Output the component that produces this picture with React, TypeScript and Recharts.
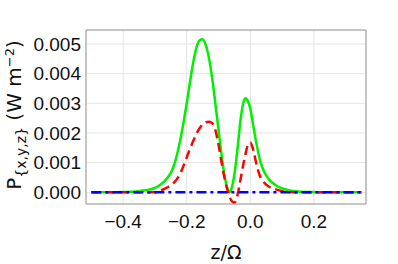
import React from "react";
import { LineChart, Line, XAxis, YAxis, CartesianGrid } from "recharts";

const zValues = [-0.5, -0.45, -0.4, -0.36, -0.33, -0.3, -0.28, -0.26, -0.25, -0.24, -0.23, -0.22, -0.21, -0.2, -0.19, -0.18, -0.17, -0.16, -0.15, -0.14, -0.13, -0.12, -0.11, -0.1, -0.09, -0.08, -0.07, -0.065, -0.06, -0.05, -0.04, -0.03, -0.02, -0.015, -0.01, 0.0, 0.01, 0.02, 0.03, 0.04, 0.05, 0.06, 0.08, 0.1, 0.12, 0.15, 0.2, 0.25, 0.3, 0.35];

const greenValues = [0, 0, 0.00001, 0.00003, 0.00007, 0.00015, 0.00028, 0.0005, 0.00066, 0.00092, 0.0013, 0.00178, 0.00236, 0.003, 0.0037, 0.00436, 0.00486, 0.00512, 0.00516, 0.00496, 0.00452, 0.00385, 0.003, 0.0021, 0.00122, 0.0005, 0.00008, 0.0, 0.0001, 0.0006, 0.0015, 0.0025, 0.0031, 0.00317, 0.00312, 0.00282, 0.0022, 0.0016, 0.0011, 0.00078, 0.00057, 0.00042, 0.00024, 0.00013, 0.00007, 0.00003, 0.00001, 0, 0, 0];

const redValues = [0, 0, 0, 0, 0, 0, 0.00007, 0.00017, 0.00024, 0.00033, 0.00046, 0.00064, 0.0009, 0.00118, 0.00146, 0.00172, 0.00196, 0.00215, 0.00229, 0.00236, 0.00238, 0.00233, 0.0021, 0.0016, 0.00098, 0.00042, 0.0, -0.00015, -0.00027, -0.00035, -0.00008, 0.00048, 0.00105, 0.0013, 0.00152, 0.00168, 0.0014, 0.00092, 0.00056, 0.00037, 0.00026, 0.00018, 0.0001, 0.00004, 0.00001, 0, 0, 0, 0, 0];

const blueValues = zValues.map(() => 0);

const xMajorTicks = [-0.4, -0.2, 0.0, 0.2];
const xMinorTicks = [-0.5, -0.45, -0.4, -0.35, -0.3, -0.25, -0.2, -0.15, -0.1, -0.05, 0, 0.05, 0.1, 0.15, 0.2, 0.25, 0.3, 0.35];
const yMajorTicks = [0, 0.001, 0.002, 0.003, 0.004, 0.005];
const yMinorTicks = [-0.0002, 0, 0.0002, 0.0004, 0.0006, 0.0008, 0.001, 0.0012, 0.0014, 0.0016, 0.0018, 0.002, 0.0022, 0.0024, 0.0026, 0.0028, 0.003, 0.0032, 0.0034, 0.0036, 0.0038, 0.004, 0.0042, 0.0044, 0.0046, 0.0048, 0.005, 0.0052, 0.0054];

const data = zValues.map((z, i) => ({ z, g: greenValues[i], r: redValues[i], b: blueValues[i] }));

const xDomain = [-0.517, 0.364];
const yDomain = [-0.000394, 0.00547];

const FRAME = "#9a9a9a";
const TICK_FONT = "Liberation Sans, Arial, sans-serif";
const LABEL_FONT = "DejaVu Sans, sans-serif";

const fmtX = (v: number) => (v < 0 ? "\u2212" + Math.abs(v).toFixed(1) : v.toFixed(1));

const YLabel = (props: any) => {
  const vb = props.viewBox || {};
  const cx = 21;
  const cy = (vb.y ?? 30) + (vb.height ?? 174) / 2 - 2;
  return (
    <text
      x={cx}
      y={cy}
      transform={`rotate(-90, ${cx}, ${cy})`}
      textAnchor="middle"
      fontFamily={LABEL_FONT}
      fontSize={20}
      fill="#111"
    >
      <tspan>P</tspan>
      <tspan fontSize={14} dy={5}>{"{x,y,z}"}</tspan>
      <tspan dy={-5}>{" (W m"}</tspan>
      <tspan fontSize={13} dy={-7}>{"\u22122"}</tspan>
      <tspan dy={7}>{")"}</tspan>
    </text>
  );
};

const XLabel = (props: any) => {
  const vb = props.viewBox || {};
  const cx = (vb.x ?? 86) + (vb.width ?? 280) / 2;
  return (
    <text x={cx} y={259} textAnchor="middle" fontFamily={LABEL_FONT} fontSize={19} fill="#111">
      z/Ω
    </text>
  );
};

export default function App() {
  return (
    <div style={{ position: "absolute", left: 0, top: 0, width: 398, height: 264 }}>
      <LineChart
        width={398}
        height={264}
        data={data}
        margin={{ top: 30, right: 32, bottom: 30, left: 26 }}
      >
        <CartesianGrid xAxisId="b" yAxisId="l" stroke="#e4e4e4" strokeWidth={1} />
        <XAxis
          xAxisId="b"
          dataKey="z"
          type="number"
          domain={xDomain}
          allowDataOverflow
          ticks={xMajorTicks}
          tickFormatter={fmtX}
          tickLine={false}
          tickSize={0}
          tickMargin={11}
          axisLine={{ stroke: FRAME }}
          height={30}
          tick={{ fontFamily: TICK_FONT, fontSize: 19, fill: "#111" }}
          label={<XLabel />}
        />
        <XAxis xAxisId="bm" type="number" domain={xDomain} allowDataOverflow ticks={xMinorTicks} orientation="bottom" mirror tick={false} tickSize={3} tickLine={{ stroke: FRAME }} axisLine={false} />
        <XAxis xAxisId="tm" type="number" domain={xDomain} allowDataOverflow ticks={xMinorTicks} orientation="top" mirror tick={false} tickSize={3} tickLine={{ stroke: FRAME }} axisLine={{ stroke: FRAME }} />
        <YAxis
          yAxisId="l"
          type="number"
          domain={yDomain}
          allowDataOverflow
          ticks={yMajorTicks}
          tickFormatter={(v: number) => v.toFixed(3)}
          tickLine={false}
          tickSize={0}
          tickMargin={5}
          axisLine={{ stroke: FRAME }}
          width={60}
          tick={{ fontFamily: TICK_FONT, fontSize: 19, fill: "#111" }}
          label={<YLabel />}
        />
        <YAxis yAxisId="lm" type="number" domain={yDomain} allowDataOverflow ticks={yMinorTicks} orientation="left" mirror tick={false} tickSize={3} tickLine={{ stroke: FRAME }} axisLine={false} />
        <YAxis yAxisId="rm" type="number" domain={yDomain} allowDataOverflow ticks={yMinorTicks} orientation="right" mirror tick={false} tickSize={3} tickLine={{ stroke: FRAME }} axisLine={{ stroke: FRAME }} />
        <Line xAxisId="b" yAxisId="l" type="monotone" dataKey="g" stroke="#00f000" strokeWidth={2.5} dot={false} isAnimationActive={false} />
        <Line xAxisId="b" yAxisId="l" type="monotone" dataKey="r" stroke="#ff0000" strokeWidth={2.5} strokeDasharray="9 5" dot={false} isAnimationActive={false} />
        <Line xAxisId="b" yAxisId="l" type="monotone" dataKey="b" stroke="#0000ff" strokeWidth={2.5} strokeDasharray="10 4 3 4" dot={false} isAnimationActive={false} />
      </LineChart>
    </div>
  );
}
